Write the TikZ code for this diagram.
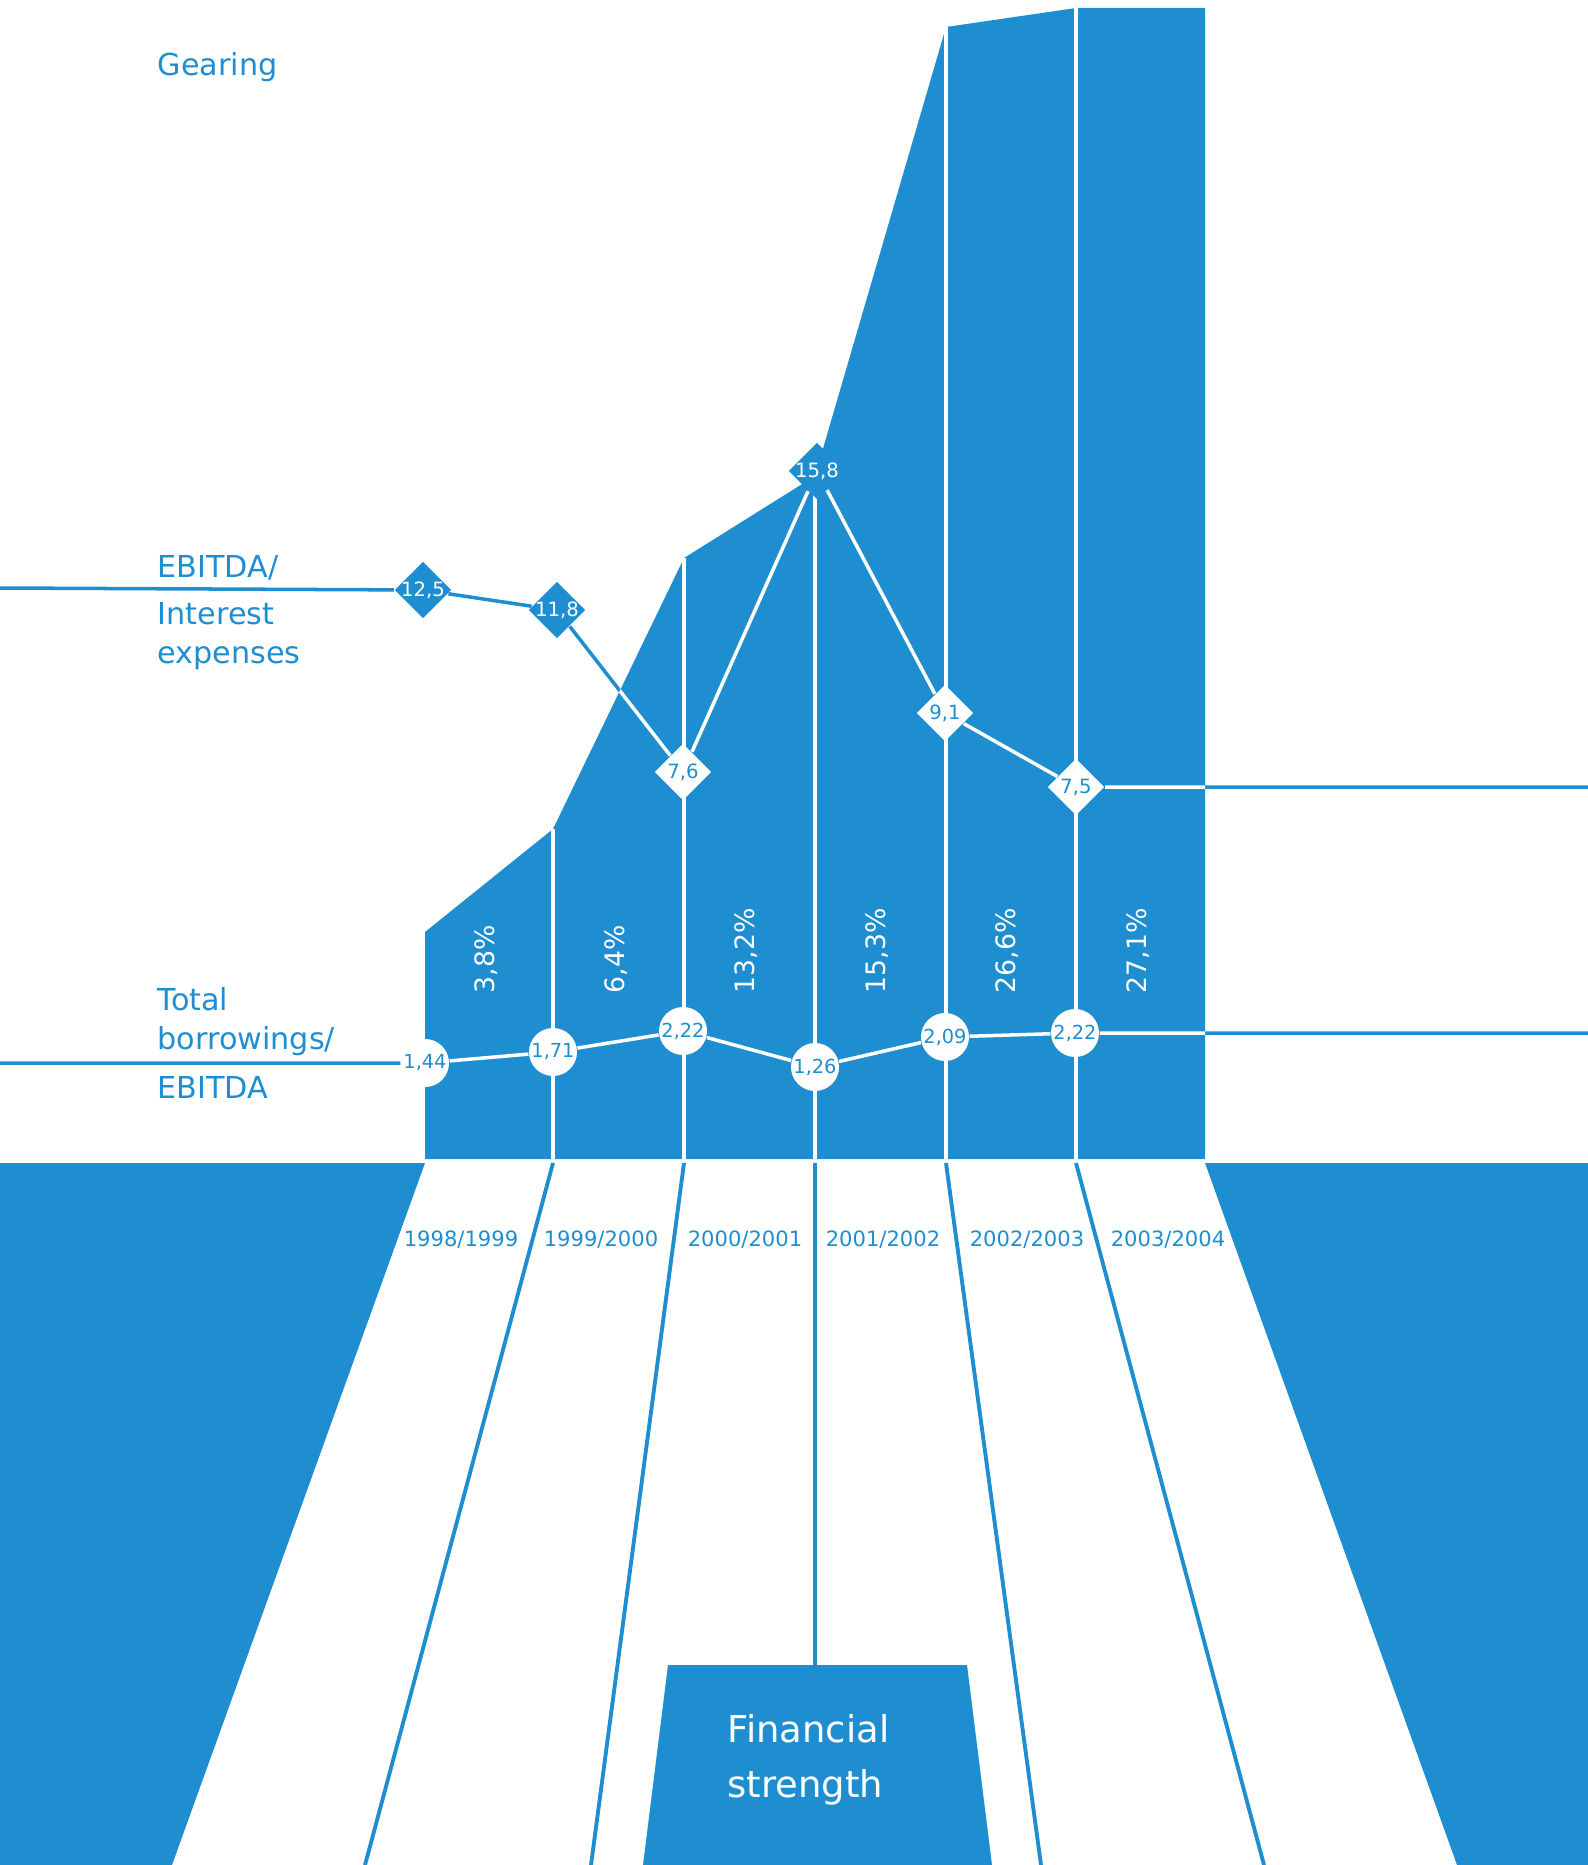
\documentclass[tikz,border=0pt]{standalone}
\usepackage{fontspec}
\setmainfont{DejaVu Sans}
\usetikzlibrary{shapes.geometric}
\definecolor{fsblue}{RGB}{31,142,208}
\def\gearingarea{(4.25,-11.59) -- (4.25,-9.32) -- (5.53,-8.29) -- (6.84,-5.58) -- (8.15,-4.76) -- (9.46,-0.27) -- (10.76,-0.08) -- (12.05,-0.08) -- (12.05,-11.59) -- cycle}
\newcommand\dval[1]{\makebox[0pt]{#1}}
\tikzset{
	sidelabel/.style={anchor=base west, inner sep=0, text=fsblue, font=\fontsize{8.6}{10}\selectfont},
	ratiodiamond/.style={diamond, aspect=1, minimum size=0.57cm, inner sep=0, fill=fsblue, text=white, font=\fontsize{5.6}{6}\selectfont},
	ratiodiamondw/.style={ratiodiamond, fill=white, text=fsblue},
	ratiocircle/.style={circle, minimum size=0.48cm, inner sep=0, fill=white, text=fsblue, font=\fontsize{5.5}{6}\selectfont},
	chartline/.style={line width=1pt},
	pctlabel/.style={rotate=90, anchor=west, inner sep=0, text=white, font=\fontsize{7.6}{9}\selectfont},
	yearlabel/.style={anchor=base, inner sep=0, text=fsblue, font=\fontsize{6}{7}\selectfont}
}

\begin{document}
\begin{tikzpicture}
		%%%%% START %%%%%
		\useasboundingbox (0,0) rectangle (15.88,-18.65);
		
		\fill[fsblue] \gearingarea;
		\foreach \x/\y in {5.53/8.29, 6.84/5.58, 8.15/4.95, 9.46/0.27, 10.76/0.08}
			\draw[white, line width=1.1pt] (\x,-\y) -- (\x,-11.59);
		
		\node[sidelabel] (gear) at (1.57,-0.76) {Gearing};
		\node[sidelabel] (eb1) at (1.57,-5.77) {EBITDA/};
		\node[sidelabel] (eb2) at (1.57,-6.24) {Interest};
		\node[sidelabel] (eb3) at (1.57,-6.63) {expenses};
		\node[sidelabel] (tb1) at (1.57,-10.10) {Total};
		\node[sidelabel] (tb2) at (1.57,-10.49) {borrowings/};
		\node[sidelabel] (tb3) at (1.57,-10.98) {EBITDA};
		
		\foreach \x/\p [count=\i] in {4.86/{3,8}, 6.16/{6,4}, 7.46/{13,2}, 8.77/{15,3}, 10.07/{26,6}, 11.38/{27,1}}
			\node[pctlabel] (pct\i) at (\x,-9.94) {\p\%};
		
		% EBITDA / interest expenses
		\coordinate (ebleft) at (0,-5.88);
		\coordinate (ebright) at (15.88,-7.87);
		\node[ratiodiamond] (d1) at (4.23,-5.90) {\dval{12,5}};
		\node[ratiodiamond] (d2) at (5.57,-6.10) {\dval{11,8}};
		\node[ratiodiamondw] (d3) at (6.83,-7.72) {\dval{7,6}};
		\node[ratiodiamond] (d4) at (8.17,-4.71) {\dval{15,8}};
		\node[ratiodiamondw] (d5) at (9.45,-7.13) {\dval{9,1}};
		\node[ratiodiamondw] (d6) at (10.76,-7.87) {\dval{7,5}};
		
		% total borrowings / EBITDA
		\coordinate (tbleft) at (0,-10.63);
		\coordinate (tbright) at (15.88,-10.33);
		\node[ratiocircle] (c1) at (4.25,-10.63) {1,44};
		\node[ratiocircle] (c2) at (5.53,-10.52) {1,71};
		\node[ratiocircle] (c3) at (6.83,-10.31) {2,22};
		\node[ratiocircle] (c4) at (8.15,-10.67) {1,26};
		\node[ratiocircle] (c5) at (9.45,-10.37) {2,09};
		\node[ratiocircle] (c6) at (10.75,-10.33) {2,22};
		
		\draw[chartline, fsblue] (ebleft) -- (d1) -- (d2) -- (d3) -- (d4) -- (d5) -- (d6) -- (ebright);
		\draw[chartline, fsblue] (tbleft) -- (c1) -- (c2) -- (c3) -- (c4) -- (c5) -- (c6) -- (tbright);
		\begin{scope}
			\clip \gearingarea;
			\draw[chartline, white] (ebleft) -- (d1) -- (d2) -- (d3) -- (d4) -- (d5) -- (d6) -- (ebright);
			\draw[chartline, white] (tbleft) -- (c1) -- (c2) -- (c3) -- (c4) -- (c5) -- (c6) -- (tbright);
		\end{scope}
		
		% lower part
		\fill[fsblue] (0,-11.63) -- (4.25,-11.63) -- (1.72,-18.65) -- (0,-18.65) -- cycle;
		\fill[fsblue] (12.05,-11.63) -- (15.88,-11.63) -- (15.88,-18.65) -- (14.57,-18.65) -- cycle;
		\draw[fsblue, line width=1.1pt] (5.53,-11.63) -- (3.65,-18.65);
		\draw[fsblue, line width=1.1pt] (6.84,-11.63) -- (5.91,-18.65);
		\draw[fsblue, line width=1.1pt] (8.15,-11.63) -- (8.15,-16.66);
		\draw[fsblue, line width=1.1pt] (9.46,-11.63) -- (10.41,-18.65);
		\draw[fsblue, line width=1.1pt] (10.76,-11.63) -- (12.64,-18.65);
		
		\foreach \x/\yr [count=\i] in {4.61/{1998/1999}, 6.01/{1999/2000}, 7.45/{2000/2001}, 8.83/{2001/2002}, 10.27/{2002/2003}, 11.68/{2003/2004}}
			\node[yearlabel] (yr\i) at (\x,-12.46) {\yr};
		
		\fill[fsblue] (6.68,-16.65) -- (9.67,-16.65) -- (9.92,-18.65) -- (6.43,-18.65) -- cycle;
		\node[anchor=base west, inner sep=0, text=white, font=\fontsize{10.5}{12}\selectfont] (fin1) at (7.27,-17.42) {Financial};
		\node[anchor=base west, inner sep=0, text=white, font=\fontsize{10.5}{12}\selectfont] (fin2) at (7.27,-17.97) {strength};
		
		%%%%% END %%%%%
\end{tikzpicture}
\end{document}
